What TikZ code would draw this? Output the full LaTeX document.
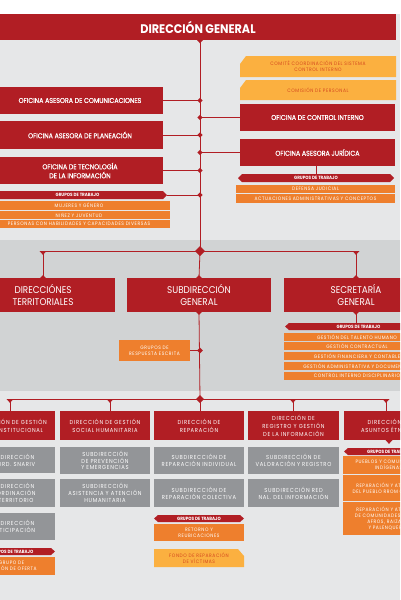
\documentclass[tikz,border=0pt]{standalone}
\usepackage{fontspec}
\setmainfont{Poppins}[FakeStretch=0.9]
\newfontfamily\popsp{Poppins}[FakeStretch=0.9,LetterSpace=12]
\newfontfamily\popmd{Poppins}[FakeStretch=0.9,FakeBold=0.8]
\definecolor{rd}{HTML}{B11E24}
\definecolor{org}{HTML}{EE7F2D}
\definecolor{yel}{HTML}{FBB040}
\definecolor{gry}{HTML}{939598}
\definecolor{bgl}{HTML}{E6E7E8}
\definecolor{bgd}{HTML}{D1D3D4}
\definecolor{ytx}{HTML}{D4471F}
\newcommand\zT{\bfseries\fontsize{12.5}{14}\selectfont}
\newcommand\zA{\popmd\fontsize{7}{9}\selectfont}
\newcommand\zM{\fontsize{9.8}{11.3}\selectfont}
\newcommand\zB{\popsp\fontsize{5.8}{8}\selectfont}
\newcommand\zC{\popsp\fontsize{5.8}{6.8}\selectfont}
\newcommand\zS{\popsp\fontsize{4.9}{6.2}\selectfont}
\newcommand\zG{\bfseries\fontsize{4.6}{5}\selectfont}
% rectangle node: name, style, x1, y1, x2, y2, text
\newcommand\rect[7]{%
  \pgfmathsetmacro\cxx{(#3+#5)/2}\pgfmathsetmacro\cyy{(#4+#6)/2}%
  \pgfmathsetmacro\ww{#5-#3}\pgfmathsetmacro\hh{#6-#4}%
  \node[bx,#2,minimum width=\ww pt,minimum height=\hh pt] (#1) at (\cxx,\cyy) {#7};}
% shaped box: name, fill colour, text style, x1, y1, x2, y2, outline, text
\newcommand\shp[9]{%
  \def\xa{#4}\def\ya{#5}\def\xb{#6}\def\yb{#7}%
  \pgfmathsetmacro\ym{(#5+#7)/2}%
  \fill[#2] #8;%
  \rect{#1}{#3}{#4}{#5}{#6}{#7}{#9}}
\def\pR{(\xa,\ya) -- ({\xb-4},\ya) -- (\xb,\ym) -- ({\xb-4},\yb) -- (\xa,\yb) -- cycle}
\def\pL{({\xa+4},\ya) -- (\xb,\ya) -- (\xb,\yb) -- ({\xa+4},\yb) -- (\xa,\ym) -- cycle}
\def\pLR{({\xa+4},\ya) -- ({\xb-4},\ya) -- (\xb,\ym) -- ({\xb-4},\yb) -- ({\xa+4},\yb) -- (\xa,\ym) -- cycle}
\def\pcNW{({\xa+6},\ya) -- (\xb,\ya) -- (\xb,\yb) -- (\xa,\yb) -- (\xa,{\ya+8}) -- cycle}
\def\pcNE{(\xa,\ya) -- ({\xb-6},\ya) -- (\xb,{\ya+7}) -- (\xb,\yb) -- (\xa,\yb) -- cycle}
\newcommand\dm[2]{\fill[rd] (#1) ++(-#2,0) -- ++(#2,-#2) -- ++(#2,#2) -- ++(-#2,#2) -- cycle;}
\newcommand\tm[2]{\fill[rd] (#1) ++(-#2,0) -- ++(2*#2,0) -- ++(-#2,#2*1.1) -- cycle;}
\begin{document}
\begin{tikzpicture}[x=1pt,y=-1pt,
  bx/.style={inner sep=0pt,outer sep=0pt,align=center},
  redb/.style={fill=rd,text=white},
  grayb/.style={fill=gry,text=white},
  orgb/.style={fill=org,text=white},
  ln/.style={draw=rd,line width=0.8pt}]
\useasboundingbox (0,0) rectangle (400,600);
\clip (0,0) rectangle (400,600);
\fill[white] (0,0) rectangle (400,14);
\fill[bgl] (0,14) rectangle (400,600);
\fill[bgd] (0,240) rectangle (400,391);
\coordinate (jt) at (200,251);
\coordinate (jb) at (200,399);
\coordinate (t1) at (10,399);
\coordinate (t2) at (110,399);
\coordinate (t3) at (200,399);
\coordinate (t4) at (293,399);
\coordinate (t5) at (386,399);
% title
\rect{dg}{redb,font=\zT}{0}{14}{396}{40}{DIRECCIÓN GENERAL}
% left offices
\rect{oc}{redb,font=\zA}{-3}{87}{163}{114}{OFICINA ASESORA DE COMUNICACIONES}
\rect{op}{redb,font=\zA}{-3}{121}{163}{149}{OFICINA ASESORA DE PLANEACIÓN}
\rect{ot}{redb,font=\zA}{-3}{157}{163}{184}{OFICINA DE TECNOLOGÍA\\DE LA INFORMACIÓN}
\shp{gl}{rd}{text=white,font=\zG}{-12}{191}{167}{199}{\pR}{GRUPOS DE TRABAJO}
\rect{mg}{orgb,font=\zS}{-12}{201}{170}{210}{MUJERES Y GÉNERO}
\rect{nj}{orgb,font=\zS}{-12}{211}{170}{219}{NIÑEZ Y JUVENTUD}
\rect{pd}{orgb,font=\zS}{-12}{220}{170}{228}{PERSONAS CON HABILIDADES Y CAPACIDADES DIVERSAS}
% right offices
\shp{cc}{yel}{text=ytx,font=\zS}{240}{56}{396}{77}{\pcNW}{COMITÉ COORDINACIÓN DEL SISTEMA\\CONTROL INTERNO}
\shp{cp}{yel}{text=ytx,font=\zS}{240}{80}{396}{100}{\pcNW}{COMISIÓN DE PERSONAL}
\rect{ci}{redb,font=\zA}{240}{104}{395}{131}{OFICINA DE CONTROL INTERNO}
\rect{aj}{redb,font=\zA}{240}{139}{395}{166}{OFICINA ASESORA JURÍDICA}
\shp{gj}{rd}{text=white,font=\zG}{238}{174}{394}{182}{\pLR}{GRUPOS DE TRABAJO}
\rect{dj}{orgb,font=\zS}{236}{185}{395}{193}{DEFENSA JUDICIAL}
\rect{aa}{orgb,font=\zS}{236}{194}{395}{203}{ACTUACIONES ADMINISTRATIVAS Y CONCEPTOS}
% middle level
\rect{dt}{redb,font=\zM}{-29}{278}{115}{312}{DIRECCIÓNES\\TERRITORIALES}
\rect{sd}{redb,font=\zM}{127}{278}{271}{312}{SUBDIRECCIÓN\\GENERAL}
\rect{sg}{redb,font=\zM}{284}{278}{428}{312}{SECRETARÍA\\GENERAL}
\rect{re}{orgb,font=\zS}{119}{340}{190}{361}{GRUPOS DE\\RESPUESTA ESCRITA}
\shp{gs}{rd}{text=white,font=\zG}{285}{323}{432}{330}{\pL}{GRUPOS DE TRABAJO}
\rect{r1}{orgb,font=\zS}{284}{333}{430}{341}{GESTIÓN DEL TALENTO HUMANO}
\rect{r2}{orgb,font=\zS}{284}{342}{430}{350}{GESTIÓN CONTRACTUAL}
\rect{r3}{orgb,font=\zS}{284}{352}{430}{360}{GESTIÓN FINANCIERA Y CONTABLE}
\rect{r4}{orgb,font=\zS}{284}{362}{430}{370}{GESTIÓN ADMINISTRATIVA Y DOCUMENTAL}
\rect{r5}{orgb,font=\zS}{284}{372}{430}{380}{CONTROL INTERNO DISCIPLINARIO}
% bottom level
\rect{b1}{redb,font=\zB}{-32}{411}{55}{440}{DIRECCIÓN DE GESTIÓN\\INTERINSTITUCIONAL}
\rect{b2}{redb,font=\zB}{60}{411}{150}{440}{DIRECCIÓN DE GESTIÓN\\SOCIAL HUMANITARIA}
\rect{b3}{redb,font=\zB}{154}{411}{244}{440}{DIRECCIÓN DE\\REPARACIÓN}
\rect{b4}{redb,font=\zB}{248}{411}{339}{440}{DIRECCIÓN DE\\REGISTRO Y GESTIÓN\\DE LA INFORMACIÓN}
\rect{b5}{redb,font=\zB}{344}{411}{434}{440}{DIRECCIÓN DE\\ASUNTOS ÉTNICOS}
\rect{s11}{grayb,font=\zC}{-32}{447}{55}{473}{SUBDIRECCIÓN\\COORD. SNARIV}
\rect{s12}{grayb,font=\zC}{-32}{479}{55}{507}{SUBDIRECCIÓN\\COORDINACIÓN\\EN TERRITORIO}
\rect{s13}{grayb,font=\zC}{-32}{513}{55}{540}{SUBDIRECCIÓN\\PARTICIPACIÓN}
\shp{g1}{rd}{text=white,font=\zG}{-32}{548}{55}{555}{\pR}{GRUPOS DE TRABAJO}
\rect{o1}{orgb,font=\zS}{-32}{557}{55}{575}{GRUPO DE\\GESTIÓN DE OFERTA}
\rect{s21}{grayb,font=\zC}{60}{447}{150}{474}{SUBDIRECCIÓN\\DE PREVENCIÓN\\Y EMERGENCIAS}
\rect{s22}{grayb,font=\zC}{60}{479}{150}{507}{SUBDIRECCIÓN\\ASISTENCIA Y ATENCIÓN\\HUMANITARIA}
\rect{s31}{grayb,font=\zC}{154}{447}{244}{474}{SUBDIRECCIÓN DE\\REPARACIÓN INDIVIDUAL}
\rect{s32}{grayb,font=\zC}{154}{479}{244}{507}{SUBDIRECCIÓN DE\\REPARACIÓN COLECTIVA}
\shp{g3}{rd}{text=white,font=\zG}{154}{515}{244}{522}{\pLR}{GRUPOS DE TRABAJO}
\rect{o3}{orgb,font=\zS}{154}{524}{244}{541}{RETORNO Y\\REUBICACIONES}
\shp{f3}{yel}{text=ytx,font=\zS}{154}{549}{244}{567}{\pcNE}{FONDO DE REPARACIÓN\\DE VÍCTIMAS}
\rect{s41}{grayb,font=\zC}{248}{447}{339}{474}{SUBDIRECCIÓN DE\\VALORACIÓN Y REGISTRO}
\rect{s42}{grayb,font=\zC}{248}{479}{339}{507}{SUBDIRECCIÓN RED\\NAL. DEL INFORMACIÓN}
\shp{g5}{rd}{text=white,font=\zG}{344}{448}{434}{455}{\pL}{GRUPOS DE TRABAJO}
\rect{o51}{orgb,font=\zS}{343}{456}{434}{474}{PUEBLOS Y COMUNIDADES\\INDÍGENAS}
\rect{o52}{orgb,font=\zS}{343}{475}{434}{501}{REPARACIÓN Y ATENCIÓN\\DEL PUEBLO RROM O GITANO}
\rect{o53}{orgb,font=\zS}{343}{502}{434}{535}{REPARACIÓN Y ATENCIÓN\\DE COMUNIDADES NEGRAS\\AFROS, RAIZALES\\Y PALENQUERAS}
% connectors
\draw[ln] (dg.south -| jt) -- (jt);
\draw[ln] (oc.east) -- (oc.east -| jt);
\draw[ln] (op.east) -- (op.east -| jt);
\draw[ln] (ot.east) -- (ot.east -| jt);
\draw[ln] (gl.east) -- (gl.east -| jt);
\draw[ln] (ci.west) -- (ci.west -| jt);
\draw[ln] (aj.west) -- (aj.west -| jt);
\draw[ln] (gj.north) -- (gj.north |- aj.south);
\draw[ln] (jt -| dt.north) -- (jt -| sg.north);
\draw[ln] (jt -| dt.north) -- (dt.north);
\draw[ln] (jt) -- (sd.north);
\draw[ln] (jt -| sg.north) -- (sg.north);
\draw[ln] (sd.south) -- (jb);
\draw[ln] (re.east) -- (re.east -| jb);
\draw[ln] (sg.south) -- (sg.south |- gs.north);
\draw[ln] (t1) -- (t5);
\draw[ln] (t1) -- (t1 |- b1.north);
\draw[ln] (t2) -- (t2 |- b2.north);
\draw[ln] (t3) -- (t3 |- b3.north);
\draw[ln] (t4) -- (t4 |- b4.north);
\draw[ln] (t5) -- (t5 |- b5.north);
% markers
\tm{dg.south -| jt}{3}
\dm{oc.east -| jt}{2.6}
\dm{op.east -| jt}{2.6}
\dm{ot.east -| jt}{2.6}
\dm{gl.east -| jt}{2.6}
\dm{ci.west -| jt}{2.6}
\dm{aj.west -| jt}{2.6}
\dm{jt}{5}
\tm{jt -| dt.north}{3.5}
\tm{jt -| sg.north}{3.5}
\dm{dt.north}{2.8}
\dm{sd.north}{2.8}
\dm{sg.north}{2.8}
\dm{sd.south}{2.8}
\dm{sg.south}{2.8}
\dm{re.east -| jb}{2.8}
\dm{jb}{4}
\tm{t1}{3.5}
\tm{t2}{3.5}
\tm{t4}{3.5}
\tm{t5}{3.5}
\tm{b5.south}{3.5}
\end{tikzpicture}
\end{document}
